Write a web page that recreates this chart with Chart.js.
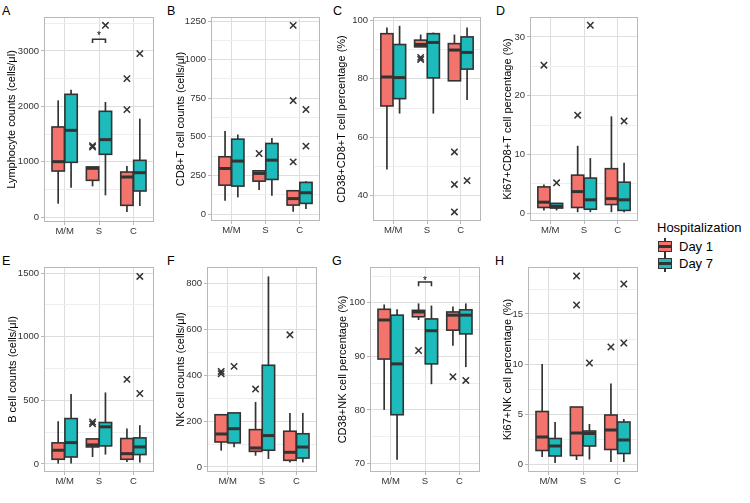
<!DOCTYPE html>
<html>
<head>
<meta charset="utf-8">
<script src="https://cdn.jsdelivr.net/npm/chart.js@4.4.1/dist/chart.umd.min.js"></script>
<style>
    body {
        margin: 0;
        width: 750px;
        height: 503px;
        background: #fff;
        position: relative;
        overflow: hidden;
        font-family: "Liberation Sans", Arial, sans-serif;
    }
    .panel { position: absolute; }
    .letter { position: absolute; font-size: 12.5px; line-height: 13px; color: #000; }
    .legend-text { position: absolute; font-size: 13px; line-height: 13px; color: #000; white-space: nowrap; }
    .key { position: absolute; width: 14px; height: 17px; }
    .key .whisker { position: absolute; left: 6px; width: 2px; top: 0; bottom: 0; background: #333; }
    .key .body { position: absolute; left: 0; top: 3px; width: 14px; height: 11px; box-sizing: border-box; border: 1.5px solid #333; }
    .key .median { position: absolute; left: 0; width: 14px; top: 7px; height: 3px; background: #333; }
</style>
</head>
<body>
<div class="letter" style="left:2px;top:5px">A</div>
<div class="letter" style="left:167px;top:5px">B</div>
<div class="letter" style="left:333px;top:5px">C</div>
<div class="letter" style="left:496px;top:5px">D</div>
<div class="letter" style="left:2px;top:255px">E</div>
<div class="letter" style="left:167px;top:255px">F</div>
<div class="letter" style="left:332px;top:255px">G</div>
<div class="letter" style="left:495px;top:255px">H</div>
<div id="legend"></div>

<script>
const categories = ['M/M', 'S', 'C']
const groupLabels = ['Day 1', 'Day 7']
const fillColors = ['#F3746C', '#1DBBBB']
const lineColor = '#333333'
const dodge = [-0.1875, 0.1875]
const boxWidth = 0.36

// each box: [lower whisker, Q1, median, Q3, upper whisker]
// A - lymphocytes
const lymphDay1 = [[241, 831, 1000, 1627, 2108], [554, 663, 880, 905, 905], [90, 211, 723, 813, 922]]
const lymphDay7 = [[530, 988, 1566, 2217, 2301], [392, 1133, 1398, 1910, 2078], [199, 470, 801, 1024, 1777]]
const lymphOut1 = [[], [1265, 1290], [1940, 2500]]
const lymphOut7 = [[], [3464], [2952]]
const lymphTicks = [0, 1000, 2000, 3000]
const lymphRange = [-90, 3614]
const lymphSig = [3145, 3211, 3313]

// B - CD8+T
const cd8Day1 = [[86, 187, 295, 371, 537], [155, 213, 263, 280, 280], [15, 58, 100, 151, 151]]
const cd8Day7 = [[108, 181, 343, 485, 515], [118, 224, 349, 457, 493], [32, 69, 138, 205, 213]]
const cd8Out1 = [[], [392], [338, 735, 1222]]
const cd8Out7 = [[], [], [440, 677]]
const cd8Ticks = [0, 250, 500, 750, 1000, 1250]
const cd8Range = [-45, 1276]

// C - CD38+CD8+T
const cd38tDay1 = [[49.0, 70.7, 80.6, 95.4, 97.5], [90.9, 90.9, 91.7, 93.2, 95.1], [79.3, 79.3, 89.8, 92.0, 95.1]]
const cd38tDay7 = [[68.1, 73.2, 80.4, 91.7, 98.1], [68.1, 80.3, 92.4, 95.4, 95.8], [72.7, 83.3, 89.0, 94.3, 97.5]]
const cd38tOut1 = [[], [86.6, 87.3], [34.5, 43.9, 55.0]]
const cd38tOut7 = [[], [], [45.2]]
const cd38tTicks = [40, 60, 80, 100]
const cd38tRange = [31.4, 101.1]

// D - Ki67+CD8+T
const ki67tDay1 = [[0.5, 1.0, 1.9, 4.5, 4.9], [0.2, 1.0, 3.7, 6.5, 11.5], [0.2, 1.5, 2.5, 7.6, 16.5]]
const ki67tDay7 = [[0.5, 0.9, 1.2, 1.7, 1.7], [0.2, 0.7, 2.3, 6.0, 9.4], [0.2, 0.5, 2.3, 5.3, 8.6]]
const ki67tOut1 = [[25.2], [16.7], []]
const ki67tOut7 = [[5.2], [32.0], [15.7]]
const ki67tTicks = [0, 10, 20, 30]
const ki67tRange = [-1.3, 33.4]

// E - B cells
const bcellDay1 = [[3, 37, 108, 166, 336], [55, 134, 150, 197, 197], [16, 37, 81, 200, 278]]
const bcellDay7 = [[3, 55, 168, 357, 549], [74, 142, 292, 326, 562], [11, 74, 134, 205, 305]]
const bcellOut1 = [[], [315, 330], [665]]
const bcellOut7 = [[], [], [554, 1474]]
const bcellTicks = [0, 500, 1000, 1500]
const bcellRange = [-63, 1548]

// F - NK cells
const nkDay1 = [[71, 109, 144, 228, 231], [49, 68, 83, 163, 284], [20, 29, 64, 156, 236]]
const nkDay7 = [[86, 105, 167, 236, 236], [35, 73, 137, 444, 832], [20, 39, 87, 145, 236]]
const nkOut1 = [[407, 417], [340], [577]]
const nkOut7 = [[439], [], []]
const nkTicks = [0, 200, 400, 600, 800]
const nkRange = [-22, 873]

// G - CD38+NK
const cd38nkDay1 = [[80.0, 89.5, 96.8, 98.8, 99.7], [96.8, 97.4, 98.3, 98.6, 99.9], [92.0, 94.9, 97.7, 98.3, 99.3]]
const cd38nkDay7 = [[70.7, 79.1, 88.6, 97.7, 98.8], [84.8, 88.6, 94.8, 97.0, 99.5], [88.0, 94.2, 97.7, 98.7, 99.9]]
const cd38nkOut1 = [[], [91.1], [86.2]]
const cd38nkOut7 = [[], [], [85.5]]
const cd38nkTicks = [70, 80, 90, 100]
const cd38nkRange = [68.4, 106.7]
const cd38nkSig = [103.1, 103.9, 104.6]

// H - Ki67+NK
const ki67nkDay1 = [[0.7, 1.35, 2.7, 5.25, 10.0], [0.4, 0.85, 3.1, 5.7, 5.7], [0.2, 1.45, 3.4, 4.9, 8.05]]
const ki67nkDay7 = [[0.1, 0.8, 1.8, 2.55, 4.2], [0.45, 1.8, 3.05, 3.3, 4.0], [0.2, 1.05, 2.4, 4.2, 4.5]]
const ki67nkOut1 = [[], [15.9, 18.8], [11.7]]
const ki67nkOut7 = [[], [10.1], [12.1, 18.0]]
const ki67nkTicks = [0, 5, 10, 15]
const ki67nkRange = [-0.8, 19.7]

// area = plot rectangle [left, top, right, bottom] in page pixels, left = canvas left
const panels = [
    { title: 'Lymphocyte counts (cells/μl)', day1: lymphDay1, day7: lymphDay7, out1: lymphOut1, out7: lymphOut7, ticks: lymphTicks, range: lymphRange, sig: lymphSig, left: 1, area: [44, 17, 157, 222] },
    { title: 'CD8+T cell counts (cells/μl)', day1: cd8Day1, day7: cd8Day7, out1: cd8Out1, out7: cd8Out7, ticks: cd8Ticks, range: cd8Range, left: 170, area: [211, 17, 323, 221] },
    { title: 'CD38+CD8+T cell percentage (%)', day1: cd38tDay1, day7: cd38tDay7, out1: cd38tOut1, out7: cd38tOut7, ticks: cd38tTicks, range: cd38tRange, left: 331, area: [373, 17, 484, 221] },
    { title: 'Ki67+CD8+T cell percentage (%)', day1: ki67tDay1, day7: ki67tDay7, out1: ki67tOut1, out7: ki67tOut7, ticks: ki67tTicks, range: ki67tRange, left: 497, area: [530, 17, 641, 221] },
    { title: 'B cell counts (cells/μl)', day1: bcellDay1, day7: bcellDay7, out1: bcellOut1, out7: bcellOut7, ticks: bcellTicks, range: bcellRange, left: 2, area: [44, 267, 157, 472] },
    { title: 'NK cell counts (cells/μl)', day1: nkDay1, day7: nkDay7, out1: nkOut1, out7: nkOut7, ticks: nkTicks, range: nkRange, left: 170, area: [207, 267, 320, 472] },
    { title: 'CD38+NK cell percentage (%)', day1: cd38nkDay1, day7: cd38nkDay7, out1: cd38nkOut1, out7: cd38nkOut7, ticks: cd38nkTicks, range: cd38nkRange, sig: cd38nkSig, left: 332, area: [370, 267, 483, 472] },
    { title: 'Ki67+NK cell percentage (%)', day1: ki67nkDay1, day7: ki67nkDay7, out1: ki67nkOut1, out7: ki67nkOut7, ticks: ki67nkTicks, range: ki67nkRange, left: 497, area: [528, 267, 641, 472] }
]

Chart.defaults.font.family = '"Liberation Sans", Arial, sans-serif'

// minor grid values halfway between the labelled ticks
function minorTicks(ticks, range) {
    let step = ticks[1] - ticks[0]
    let res = []
    for (let v = ticks[0] - step / 2; v <= range[1]; v += step)
        if (v >= range[0]) res.push(v)
    return res
}

function outlierPoints(list, d) {
    let pts = []
    list.forEach((vals, i) => vals.forEach(v => pts.push({ x: i + 1 + dodge[d], y: v })))
    return pts
}

function line(ctx, x0, y0, x1, y1) {
    ctx.beginPath()
    ctx.moveTo(x0, y0)
    ctx.lineTo(x1, y1)
    ctx.stroke()
}

// whiskers, boxes and medians drawn through the chart scales
function boxPlugin(p) {
    return {
        id: 'boxes',
        beforeDatasetsDraw(chart) {
            const ctx = chart.ctx
            const xs = chart.scales.x
            const ys = chart.scales.y
            ctx.save()
            ;[p.day1, p.day7].forEach((stats, d) => {
                stats.forEach((s, i) => {
                    let c = i + 1 + dodge[d]
                    let xc = xs.getPixelForValue(c)
                    let x0 = xs.getPixelForValue(c - boxWidth / 2)
                    let x1 = xs.getPixelForValue(c + boxWidth / 2)
                    let [lo, q1, med, q3, hi] = s.map(v => ys.getPixelForValue(v))
                    ctx.strokeStyle = lineColor
                    ctx.lineWidth = 1.7
                    line(ctx, xc, lo, xc, q1)
                    line(ctx, xc, q3, xc, hi)
                    ctx.fillStyle = fillColors[d]
                    ctx.fillRect(x0, q3, x1 - x0, q1 - q3)
                    ctx.lineWidth = 1.6
                    ctx.strokeRect(x0, q3, x1 - x0, q1 - q3)
                    ctx.lineWidth = 3
                    line(ctx, x0, med, x1, med)
                })
            })
            ctx.restore()
        },
        afterDraw(chart) {
            const ctx = chart.ctx
            const xs = chart.scales.x
            const ys = chart.scales.y
            const a = chart.chartArea
            ctx.save()
            if (p.sig) {
                let xl = xs.getPixelForValue(2 + dodge[0])
                let xr = xs.getPixelForValue(2 + dodge[1])
                let yt = ys.getPixelForValue(p.sig[0])
                let yb = ys.getPixelForValue(p.sig[1])
                ctx.strokeStyle = lineColor
                ctx.lineWidth = 1.6
                ctx.beginPath()
                ctx.moveTo(xl, yt)
                ctx.lineTo(xl, yb)
                ctx.lineTo(xr, yb)
                ctx.lineTo(xr, yt)
                ctx.stroke()
                // star glyph sits high in the em box, so shift the baseline down
                ctx.fillStyle = '#000'
                ctx.font = '10px "Liberation Sans", Arial, sans-serif'
                ctx.textAlign = 'center'
                ctx.textBaseline = 'alphabetic'
                ctx.fillText('*', xs.getPixelForValue(2), ys.getPixelForValue(p.sig[2]) + 5.5)
            }
            ctx.strokeStyle = '#b8b8b8'
            ctx.lineWidth = 1
            ctx.strokeRect(Math.round(a.left) + 0.5, Math.round(a.top) + 0.5, Math.round(a.right - a.left) - 1, Math.round(a.bottom - a.top) - 1)
            ctx.restore()
        }
    }
}

function makeChart(p) {
    let rowTop = p.area[1] - 17
    let holder = document.createElement('div')
    holder.className = 'panel'
    holder.style.left = p.left + 'px'
    holder.style.top = rowTop + 'px'
    holder.style.width = (p.area[2] - p.left + 3) + 'px'
    holder.style.height = (p.area[3] + 18 - rowTop) + 'px'
    let canvas = document.createElement('canvas')
    holder.appendChild(canvas)
    document.body.appendChild(holder)

    let allTicks = p.ticks.concat(minorTicks(p.ticks, p.range)).sort((a, b) => a - b)
    let isMajor = ctx => ctx.tick && p.ticks.includes(ctx.tick.value)

    new Chart(canvas, {
        type: 'scatter',
        data: {
            datasets: [0, 1].map(d => ({
                label: groupLabels[d],
                data: outlierPoints(d === 0 ? p.out1 : p.out7, d),
                pointStyle: 'crossRot',
                pointRadius: 4.5,
                borderColor: lineColor,
                backgroundColor: lineColor,
                borderWidth: 1.5
            }))
        },
        options: {
            responsive: true,
            maintainAspectRatio: false,
            animation: false,
            layout: { padding: { top: p.area[1] - rowTop, right: 3, left: 0, bottom: 0 } },
            plugins: { legend: { display: false }, tooltip: { enabled: false } },
            scales: {
                x: {
                    type: 'linear',
                    min: 0.4,
                    max: 3.6,
                    afterBuildTicks: s => { s.ticks = [1, 2, 3].map(v => ({ value: v })) },
                    afterFit: s => { s.height = 18 },
                    ticks: {
                        callback: v => categories[v - 1],
                        font: { size: 9.5 },
                        color: '#333',
                        padding: 1,
                        maxRotation: 0,
                        autoSkip: false
                    },
                    grid: { color: '#dedede', lineWidth: 1, tickLength: 3, tickColor: '#b8b8b8' },
                    border: { display: false }
                },
                y: {
                    min: p.range[0],
                    max: p.range[1],
                    afterBuildTicks: s => { s.ticks = allTicks.map(v => ({ value: v })) },
                    afterFit: s => { s.width = p.area[0] - p.left },
                    ticks: {
                        callback: v => p.ticks.includes(v) ? String(v) : '',
                        font: { size: 9.5 },
                        color: '#333',
                        padding: 2,
                        autoSkip: false
                    },
                    grid: {
                        color: c => isMajor(c) ? '#dedede' : '#eeeeee',
                        lineWidth: 1,
                        tickLength: 3,
                        tickColor: c => isMajor(c) ? '#b8b8b8' : 'rgba(0,0,0,0)'
                    },
                    border: { display: false },
                    title: { display: true, text: p.title, font: { size: 11 }, color: '#000' }
                }
            }
        },
        plugins: [boxPlugin(p)]
    })
}

// legend with boxplot keys
function makeLegend() {
    let html = '<div class="legend-text" style="left:657px;top:221px">Hospitalization</div>'
    let centers = [246, 263]
    groupLabels.forEach((label, i) => {
        html += `<div class="key" style="left:658px;top:${centers[i] - 8}px">
                    <div class="whisker"></div>
                    <div class="body" style="background:${fillColors[i]}"></div>
                    <div class="median"></div>
                 </div>
                 <div class="legend-text" style="left:679px;top:${centers[i] - 6}px">${label}</div>`
    })
    document.getElementById('legend').innerHTML = html
}

panels.forEach(makeChart)
makeLegend()
</script>
</body>
</html>
